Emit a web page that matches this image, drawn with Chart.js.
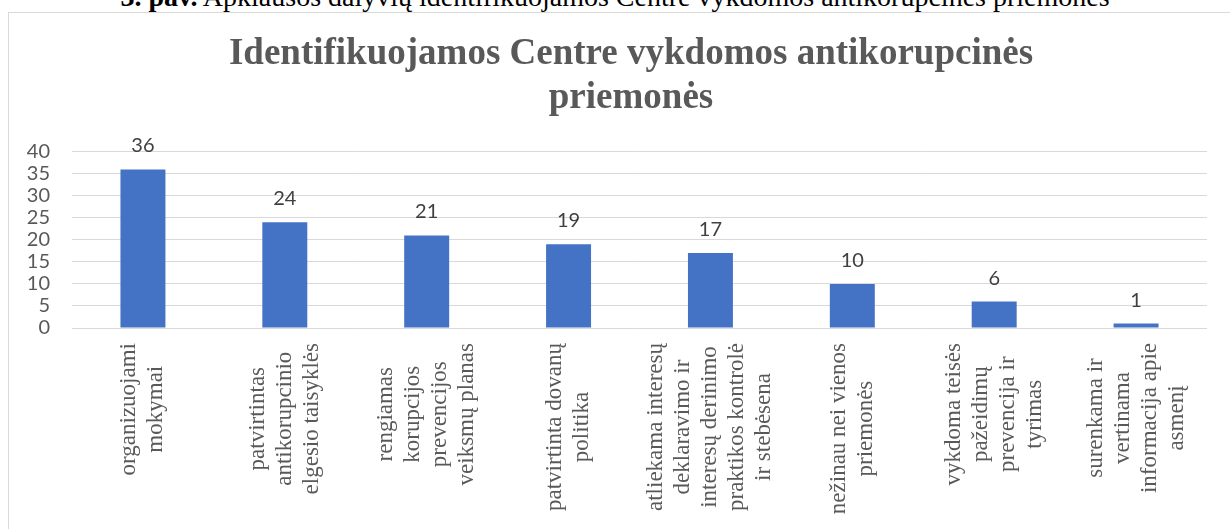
<!DOCTYPE html>
<html>
<head>
<meta charset="utf-8">
<title>Identifikuojamos Centre vykdomos antikorupcinės priemonės</title>
<script src="https://cdn.jsdelivr.net/npm/chart.js@4.4.1/dist/chart.umd.min.js"></script>
<style>
  html, body { margin: 0; padding: 0; background: #fff; overflow: hidden; }
  body { width: 1230px; height: 529px; position: relative; }
  .caption {
    position: absolute; left: 0; top: -16px; width: 1230px;
    text-align: center; white-space: nowrap;
    font-family: "Liberation Serif", serif; font-size: 28px; line-height: 26px; color: #000;
  }
  .frame {
    position: absolute; left: 8px; top: 12px; width: 1240px; height: 540px;
    border: 1px solid #d9d9d9;
  }
  #chart { position: absolute; left: 0; top: 0; }
</style>
</head>
<body>
<div class="caption"><b>3. pav.</b> Apklausos dalyvių identifikuojamos Centre vykdomos antikorupcinės priemonės</div>
<div class="frame"></div>
<canvas id="chart" width="1230" height="529"></canvas>
<script>
// categories (line breaks as in the original)
const categories = [
  ["organizuojami", "mokymai"],
  ["patvirtintas", "antikorupcinio", "elgesio taisyklės"],
  ["rengiamas", "korupcijos", "prevencijos", "veiksmų planas"],
  ["patvirtinta dovanų", "politika"],
  ["atliekama interesų", "deklaravimo ir", "interesų derinimo", "praktikos kontrolė", "ir stebėsena"],
  ["nežinau nei vienos", "priemonės"],
  ["vykdoma teisės", "pažeidimų", "prevencija ir", "tyrimas"],
  ["surenkama ir", "vertinama", "informacija apie", "asmenį"]
];
const counts = [36, 24, 21, 19, 17, 10, 6, 1];
const yTicks = [0, 5, 10, 15, 20, 25, 30, 35, 40];
const titleLines = ["Identifikuojamos Centre vykdomos antikorupcinės", "priemonės"];

// value labels above bars
const barLabels = {
  id: 'barLabels',
  afterDatasetsDraw(chart) {
    const ctx = chart.ctx;
    const meta = chart.getDatasetMeta(0);
    ctx.save();
    ctx.font = '20px Lato';
    ctx.fillStyle = '#404040';
    ctx.textAlign = 'center';
    ctx.textBaseline = 'alphabetic';
    meta.data.forEach((bar, i) => {
      ctx.fillText(String(counts[i]), bar.x, bar.y - 17);
    });
    ctx.restore();
  }
};

// rotated category labels, lines centred on each other
const catLabels = {
  id: 'catLabels',
  afterDraw(chart) {
    const ctx = chart.ctx;
    const xs = chart.scales.x;
    const top = chart.chartArea.bottom + 15;
    const pitch = 27;
    ctx.save();
    ctx.font = '23px "Liberation Serif"';
    ctx.fillStyle = '#595959';
    ctx.textAlign = 'center';
    ctx.textBaseline = 'middle';
    categories.forEach((lines, i) => {
      const x = xs.getPixelForValue(i);
      const maxW = Math.max(...lines.map(l => ctx.measureText(l).width));
      lines.forEach((line, j) => {
        ctx.save();
        ctx.translate(x + (j - (lines.length - 1) / 2) * pitch, top + maxW / 2);
        ctx.rotate(-Math.PI / 2);
        ctx.fillText(line, 0, 0);
        ctx.restore();
      });
    });
    ctx.restore();
  }
};

// the title in the original is centred on the whole frame, not on the area left of the axis labels
const shiftTitle = {
  id: 'shiftTitle',
  afterLayout(chart) {
    if (chart.titleBlock) chart.titleBlock.left = 55;
  }
};

new Chart(document.getElementById('chart'), {
  type: 'bar',
  data: {
    labels: categories.map(c => c.join(' ')),
    datasets: [{
      data: counts,
      backgroundColor: '#4472c4',
      barPercentage: 0.317,
      categoryPercentage: 1
    }]
  },
  options: {
    responsive: false,
    animation: false,
    layout: { padding: { top: 32, left: 14, right: 23, bottom: 201 } },
    plugins: {
      legend: { display: false },
      tooltip: { enabled: false },
      title: {
        display: true,
        text: titleLines,
        color: '#595959',
        font: { family: '"Liberation Serif"', size: 37, weight: 'bold', lineHeight: 1.2 },
        padding: { top: 0, bottom: 31 }
      }
    },
    scales: {
      x: { display: false },
      y: {
        min: 0,
        max: 40,
        afterBuildTicks(scale) { scale.ticks = yTicks.map(v => ({ value: v })); },
        afterFit(scale) { scale.width = 58; },
        border: { display: false },
        grid: { color: '#d9d9d9', lineWidth: 1, drawTicks: false },
        ticks: { autoSkip: false, padding: 22, color: '#595959', font: { family: 'Lato', size: 20 } }
      }
    }
  },
  plugins: [barLabels, catLabels, shiftTitle]
});
</script>
</body>
</html>
